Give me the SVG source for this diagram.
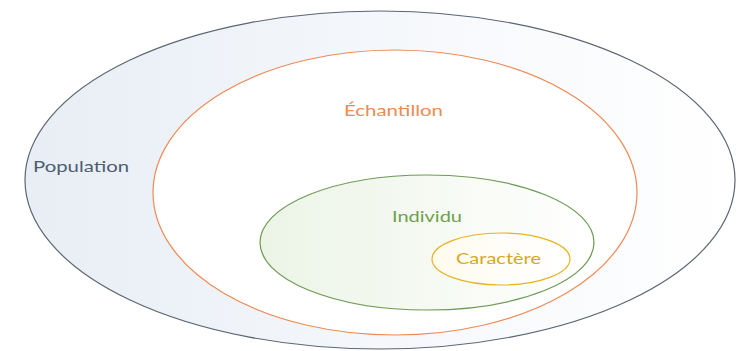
<svg xmlns="http://www.w3.org/2000/svg" width="738" height="351" viewBox="0 0 738 351">
<defs>
<linearGradient id="gBlue" x1="0" y1="0" x2="1" y2="0">
<stop offset="0" stop-color="#e8eef5"/>
<stop offset="0.6" stop-color="#f7f9fc"/>
<stop offset="1" stop-color="#ffffff"/>
</linearGradient>
<linearGradient id="gGreen" x1="0" y1="0" x2="1" y2="0">
<stop offset="0" stop-color="#ecf4e6"/>
<stop offset="1" stop-color="#ffffff"/>
</linearGradient>
<linearGradient id="gYellow" x1="0" y1="0" x2="1" y2="0">
<stop offset="0" stop-color="#fffbee"/>
<stop offset="1" stop-color="#ffffff"/>
</linearGradient>
</defs>
<style>
text{font-family:"Lato","Open Sans","Liberation Sans",sans-serif;font-size:16px;}
.pop{fill:url(#gBlue);stroke:#5b6573;stroke-width:1.2;}
.ech{fill:#ffffff;stroke:#ee8a55;stroke-width:1.2;}
.ind{fill:url(#gGreen);stroke:#6e9a55;stroke-width:1.2;}
.car{fill:url(#gYellow);stroke:#e6b420;stroke-width:1.2;}
</style>
<rect width="738" height="351" fill="#ffffff"/>
<g id="population">
<ellipse class="pop" cx="380" cy="180" rx="355" ry="169"/>
<text x="33" y="172" fill="#4e5d70" textLength="96" lengthAdjust="spacingAndGlyphs">Population</text>
</g>
<g id="echantillon">
<ellipse class="ech" cx="395" cy="192.5" rx="242" ry="142.5"/>
<text x="344" y="116" fill="#ec8b52" textLength="99" lengthAdjust="spacingAndGlyphs">Échantillon</text>
</g>
<g id="individu">
<ellipse class="ind" cx="427" cy="242.5" rx="167" ry="67.5"/>
<text x="392" y="222" fill="#6ea24c" textLength="70" lengthAdjust="spacingAndGlyphs">Individu</text>
</g>
<g id="caractere">
<ellipse class="car" cx="501" cy="259" rx="69" ry="26"/>
<text x="456" y="264" fill="#d7a825" textLength="85" lengthAdjust="spacingAndGlyphs">Caractère</text>
</g>
<g id="connectors"/>
</svg>
